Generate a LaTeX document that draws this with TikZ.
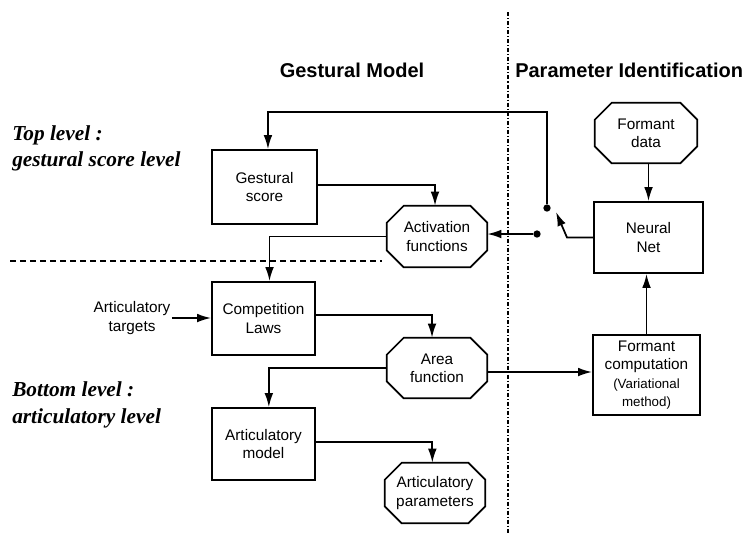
\documentclass[tikz,border=0pt]{standalone}
\usepackage{fontspec}
\setmainfont{Liberation Sans}
\newfontfamily\serfont{Liberation Serif}
\usetikzlibrary{arrows.meta,calc}
\tikzset{
  line/.style={line width=1.3pt},
  arr/.style={line width=1.3pt,-{Latex[length=10.5pt,width=6.5pt]}},
  boxtxt/.style={font=\fontsize{11.5}{13.7}\selectfont,align=center,inner sep=1pt},
  rbox/.style={boxtxt,draw,line width=1.3pt},
  obox/.style={boxtxt,draw=none},
  dot/.style={circle,fill,inner sep=0pt,minimum size=5.5pt},
  lvl/.style={font=\serfont\bfseries\itshape\fontsize{16}{20}\selectfont,align=left,anchor=west,inner sep=0pt},
  head/.style={font=\bfseries\fontsize{15}{18}\selectfont,inner sep=0pt}
}
\newcommand\octo[1]{%
  \draw[line] ([xshift=12.75pt]#1.north west) -- ([xshift=-12.75pt]#1.north east)
    -- ([yshift=-12.75pt]#1.north east) -- ([yshift=12.75pt]#1.south east)
    -- ([xshift=-12.75pt]#1.south east) -- ([xshift=12.75pt]#1.south west)
    -- ([yshift=12.75pt]#1.south west) -- ([yshift=-12.75pt]#1.north west) -- cycle;}
\begin{document}
\begin{tikzpicture}[x=0.75pt,y=-0.75pt]
\useasboundingbox (0,0) rectangle (748,533);
% separators
\coordinate (vtop) at (508,12);
\coordinate (vbot) at (508,533);
\draw[line width=0.8pt,dash pattern=on 3pt off 1.5pt on 0.8pt off 1.5pt] (vtop) -- (vbot);
\coordinate (hl) at (10,261);
\coordinate (hr) at (382,261);
\draw[line width=0.8pt,dash pattern=on 4.5pt off 3pt] (hl) -- (hr);
% headings
\node[head] (h1) at (352,70) {Gestural Model};
\node[head,anchor=west] (h2) at (515,70) {Parameter Identification};
% level labels
\node[lvl] (tl) at (12,148.5) {Top level :\\gestural score level};
\node[lvl] (bl) at (12,405) {Bottom level :\\articulatory level};
% boxes
\node[rbox,minimum width=78.75pt,minimum height=55.5pt] (gs) at (264.5,187) {Gestural\\score};
\node[obox,minimum width=75pt,minimum height=45.75pt] (act) at (437,236.5) {Activation\\functions};
\octo{act}
\node[rbox,minimum width=77.25pt,minimum height=54.75pt] (cl) at (263.5,318.5) {Competition\\Laws};
\node[obox,minimum width=75pt,minimum height=45pt] (af) at (437,368) {Area\\function};
\octo{af}
\node[rbox,minimum width=77.25pt,minimum height=54pt] (am) at (263.5,444) {Articulatory\\model};
\node[obox,minimum width=75pt,minimum height=45pt] (ap) at (435,493) {Articulatory\\parameters};
\octo{ap}
\node[obox,minimum width=76.5pt,minimum height=45pt] (fd) at (646,133) {Formant\\data};
\octo{fd}
\node[rbox,minimum width=81.75pt,minimum height=53.25pt] (nn) at (648.5,237.5) {Neural\\Net};
\node[rbox,minimum width=80.25pt,minimum height=60pt] (fc) at (646.5,375) {Formant\\computation\\{\fontsize{10}{11.5}\selectfont (Variational}\\{\fontsize{10}{11.5}\selectfont method)}};
\node[boxtxt] (at) at (132,318) {Articulatory\\targets};
% dots and switch
\node[dot] (d1) at (547,208) {};
\node[dot] (d2) at (537,234) {};
\coordinate (fbk) at (547,112);
\coordinate (sw) at (567,237.5);
\coordinate (swtip) at (556,212);
\coordinate (afe) at ([yshift=-3pt]af.east);
% connectors
\draw[arr] (d1) -- (fbk) -| ([xshift=2.6pt]gs.north);
\draw[arr] (nn.west) -- (sw) -- (swtip);
\draw[arr] (d2) -- (act.east |- d2);
\draw[arr] ([yshift=1.5pt]gs.east) -| ([xshift=-1.5pt]act.north);
\draw[arr] (act.west) -| ([xshift=4.5pt]cl.north);
\draw[arr] (at.east) -- (cl.west |- at.east);
\draw[arr] ([yshift=2.5pt]cl.east) -| ([xshift=-3.75pt]af.north);
\draw[arr] (af.west) -| ([xshift=4pt]am.north);
\draw[arr] (afe) -- (fc.west |- afe);
\draw[arr] ([yshift=1.5pt]am.east) -| ([xshift=-2pt]ap.north);
\draw[arr] (fd.south -| nn.north) -- (nn.north);
\draw[arr] (fc.north) -- (fc.north |- nn.south);
\end{tikzpicture}
\end{document}
